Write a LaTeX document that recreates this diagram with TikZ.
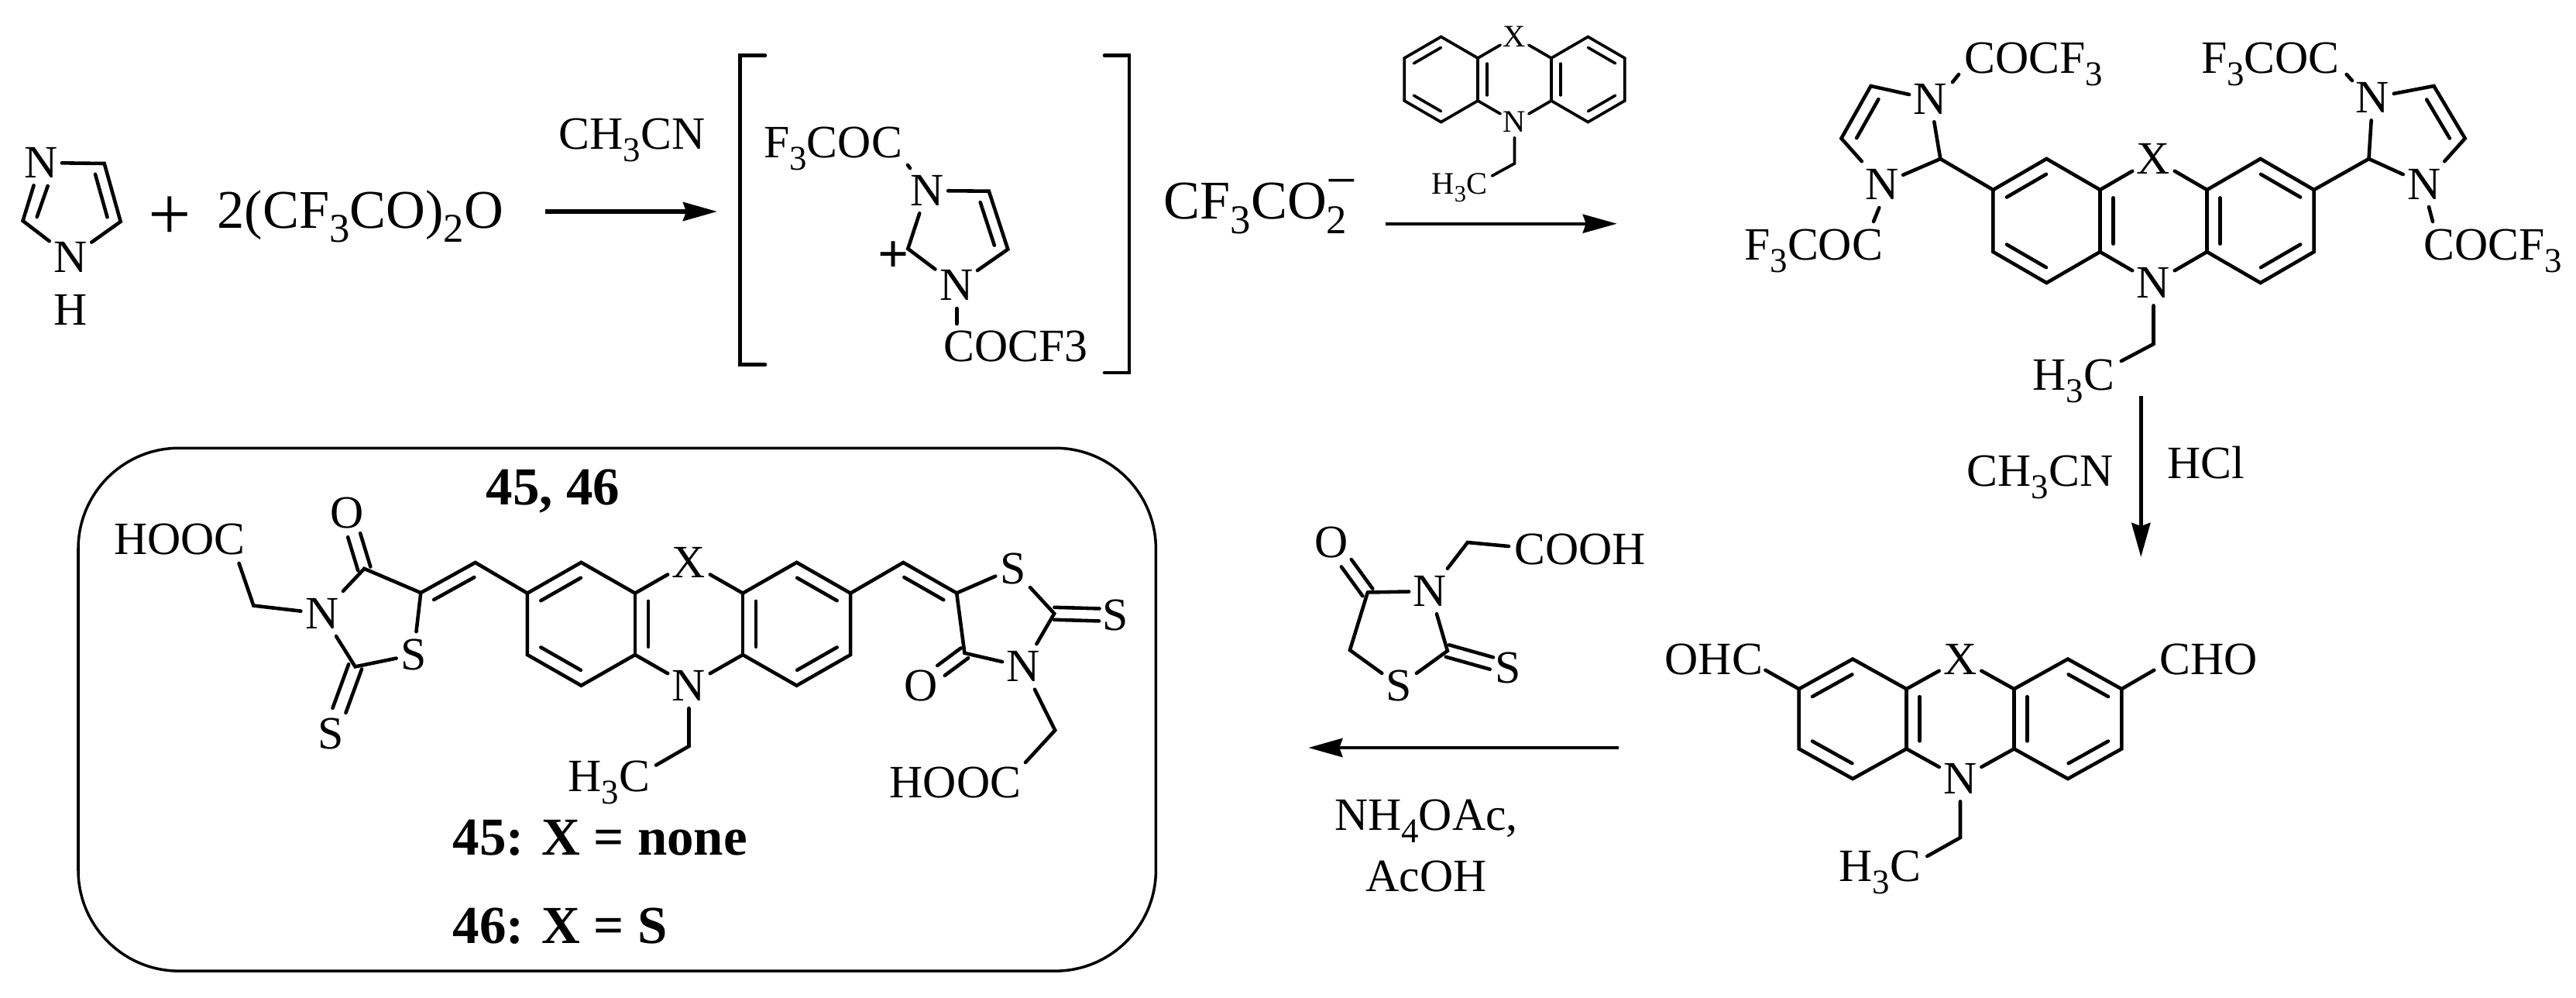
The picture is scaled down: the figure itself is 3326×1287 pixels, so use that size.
\documentclass[tikz,border=0pt]{standalone}
\usepackage{fontspec}
\setmainfont{Liberation Serif}
\usetikzlibrary{arrows.meta,calc}
\newcommand{\idx}[1]{\raisebox{-.27em}{\scalebox{.75}{#1}}}
\tikzset{
    bond/.style={line width=1.3pt,line cap=round},
    atom/.style={inner xsep=.05cm,inner ysep=.09cm,font=\fontsize{17}{20}\selectfont},
    atomsm/.style={inner xsep=.03cm,inner ysep=.06cm,font=\fontsize{11.5}{14}\selectfont},
    lab/.style={inner sep=0,anchor=base west,font=\fontsize{17}{20}\selectfont},
    labsm/.style={lab,font=\fontsize{11.5}{14}\selectfont},
    labbig/.style={lab,font=\fontsize{20}{24}\selectfont},
    labbold/.style={lab,font=\fontsize{19.6}{24}\selectfont\bfseries},
    arrow/.style={line width=#1,-{Stealth[length=.44cm,width=.24cm,inset=.04cm]}},
    arrow/.default=1.4pt
}
% inner line of a double bond, on the left of #1 -> #2
\newcommand{\inbond}[3]{\draw[bond] ($(#1)!.13!(#2)!#3!90:(#2)$) -- ($(#2)!.13!(#1)!#3!-90:(#1)$);}
% two parallel lines, the end at #2 held back from its atom
\newcommand{\dblbond}[4]{
    \draw[bond,shorten >=#4] ($(#1)!#3!90:(#2)$) -- ($(#2)!#3!-90:(#1)$);
    \draw[bond,shorten >=#4] ($(#1)!#3!-90:(#2)$) -- ($(#2)!#3!90:(#1)$);
}
% tricyclic core: name, centre x, centre y, x unit, y unit, atom style, inner offset
\newcommand{\ringcore}[7]{
    \begin{scope}[shift={(#2,#3)},x=#4cm,y=#5cm]
        \node[#6] (#1x) at (0,-2) {X};
        \node[#6] (#1n) at (0,2) {N};
        \coordinate (#1la) at (-1,-1);
        \coordinate (#1lb) at (-2,-2);
        \coordinate (#1lc) at (-3,-1);
        \coordinate (#1ld) at (-3,1);
        \coordinate (#1le) at (-2,2);
        \coordinate (#1lf) at (-1,1);
        \coordinate (#1ra) at (1,-1);
        \coordinate (#1rb) at (2,-2);
        \coordinate (#1rc) at (3,-1);
        \coordinate (#1rd) at (3,1);
        \coordinate (#1re) at (2,2);
        \coordinate (#1rf) at (1,1);
    \end{scope}
    \draw[bond] (#1x) -- (#1la) -- (#1lb) -- (#1lc) -- (#1ld) -- (#1le) -- (#1lf) -- (#1n) -- (#1rf) -- (#1re) -- (#1rd) -- (#1rc) -- (#1rb) -- (#1ra) -- (#1x);
    \draw[bond] (#1la) -- (#1lf);
    \draw[bond] (#1ra) -- (#1rf);
    \inbond{#1lb}{#1lc}{#7}
    \inbond{#1ld}{#1le}{#7}
    \inbond{#1la}{#1lf}{#7}
    \inbond{#1ra}{#1rf}{#7}
    \inbond{#1rc}{#1rb}{#7}
    \inbond{#1re}{#1rd}{#7}
}
\begin{document}
\begin{tikzpicture}[x=.01cm,y=-.01cm]
    \useasboundingbox (0,0) rectangle (3326,1287);
    % imidazole
    \node[atom] (imn1) at (52.6,210) {N};
    \node[atom] (imn3) at (91,332) {N};
    \node[atom] (imh) at (91,400) {H};
    \coordinate (imc4) at (134.7,211);
    \coordinate (imc5) at (155.7,286);
    \coordinate (imc2) at (29.5,285);
    \coordinate (imi1) at (61.7,240);
    \coordinate (imi2) at (47.7,280);
    \draw[bond] (imn1) -- (imc4) -- (imc5) -- (imn3) -- (imc2) -- (imn1);
    \draw[bond] (imi1) -- (imi2);
    \inbond{imc5}{imc4}{.15cm}
    \node[font=\fontsize{28}{30}\selectfont] (plus) at (219,282) {+};
    \node[labbig] (anhyd) at (280,294) {2(CF\idx{3}CO)\idx{2}O};
    \node[lab] (solva) at (721,192.7) {CH\idx{3}CN};
    \coordinate (a1s) at (703.6,273);
    \coordinate (a1e) at (926,273);
    \draw[arrow=1.5pt] (a1s) -- (a1e);
    % bracketed salt
    \coordinate (bl1) at (988,71.7);
    \coordinate (bl2) at (955.5,71.7);
    \coordinate (bl3) at (955.5,470.7);
    \coordinate (bl4) at (988,470.7);
    \coordinate (br1) at (1426,71.7);
    \coordinate (br2) at (1457.8,71.7);
    \coordinate (br3) at (1457.8,481);
    \coordinate (br4) at (1426,481);
    \draw[bond] (bl1) -- (bl2) -- (bl3) -- (bl4);
    \draw[bond] (br1) -- (br2) -- (br3) -- (br4);
    \node[atom] (in1) at (1196.8,246) {N};
    \node[atom] (in3) at (1234.7,368) {N};
    \coordinate (ic4) at (1276.8,246.7);
    \coordinate (ic5) at (1301.3,321.7);
    \coordinate (ic2) at (1172.3,321);
    \draw[bond] (in1) -- (ic4) -- (ic5) -- (in3) -- (ic2) -- (in1);
    \inbond{ic5}{ic4}{.15cm}
    \node[lab] (iacyl) at (985.6,203) {F\idx{3}COC};
    \node[lab] (ibcyl) at (1217.9,466.7) {COCF3};
    \coordinate (it1) at (1172,213);
    \coordinate (it2) at (1175,217);
    \coordinate (it3) at (1235.4,398);
    \coordinate (it4) at (1235.4,418);
    \draw[bond] (it1) -- (it2);
    \draw[bond] (it3) -- (it4);
    \node[font=\fontsize{20}{24}\selectfont\bfseries] (icharge) at (1154,332) {+};
    \node[labbig] (anion) at (1502,282.7) {CF\idx{3}CO\rlap{\raisebox{.37em}{−}}\idx{2}};
    % reagent above the second arrow
    \begin{scope}[bond/.append style={line width=1.05pt}]
        \ringcore{a}{1955.5}{102.5}{.474}{-.275}{atomsm}{.12cm}
        \coordinate (aet) at (1955.5,211);
        \coordinate (ace) at (1926.4,227);
        \node[labsm] (ach) at (1848,250) {H\idx{3}C};
        \draw[bond] (an) -- (aet) -- (ace);
    \end{scope}
    \coordinate (a2s) at (1788.9,288.7);
    \coordinate (a2e) at (2087.7,288.7);
    \draw[arrow=1.15pt] (a2s) -- (a2e);
    % tetra-substituted product
    \ringcore{b}{2780.5}{285}{.69}{-.40}{atom}{.17cm}
    \coordinate (bet) at (2780.5,444);
    \coordinate (bce) at (2738.8,466);
    \node[lab] (bch) at (2624,503.6) {H\idx{3}C};
    \draw[bond] (bn) -- (bet) -- (bce);
    \node[atom] (tln) at (2492.4,128) {N};
    \node[atom] (tlm) at (2429.9,237.5) {N};
    \coordinate (tlc2) at (2505.3,205);
    \coordinate (tlc4) at (2415.5,111);
    \coordinate (tlc5) at (2377.4,178.6);
    \draw[bond] (blc) -- (tlc2) -- (tln) -- (tlc4) -- (tlc5) -- (tlm) -- (tlc2);
    \inbond{tlc4}{tlc5}{.17cm}
    \node[atom] (trn) at (3063.5,126) {N};
    \node[atom] (trm) at (3130,237.5) {N};
    \coordinate (trc2) at (3058.5,205);
    \coordinate (trc4) at (3142.5,111);
    \coordinate (trc5) at (3182.7,178.6);
    \draw[bond] (brc) -- (trc2) -- (trn) -- (trc4) -- (trc5) -- (trm) -- (trc2);
    \inbond{trc5}{trc4}{.17cm}
    \node[lab] (tla) at (2536,94.6) {COCF\idx{3}};
    \node[lab] (tlb) at (2251.7,335) {F\idx{3}COC};
    \node[lab] (tra) at (2841.5,94.6) {F\idx{3}COC};
    \node[lab] (trb) at (3129,335) {COCF\idx{3}};
    \coordinate (tl1) at (2529,96);
    \coordinate (tl2) at (2521,106);
    \coordinate (tl3) at (2426.3,268);
    \coordinate (tl4) at (2419,286);
    \coordinate (tr1) at (3029.7,96);
    \coordinate (tr2) at (3037,104);
    \coordinate (tr3) at (3136,267);
    \coordinate (tr4) at (3141,286);
    \draw[bond] (tl1) -- (tl2);
    \draw[bond] (tl3) -- (tl4);
    \draw[bond] (tr1) -- (tr2);
    \draw[bond] (tr3) -- (tr4);
    % hydrolysis
    \coordinate (a3s) at (2764.3,511);
    \coordinate (a3e) at (2764.3,719);
    \draw[arrow] (a3s) -- (a3e);
    \node[lab] (solvb) at (2539,627.3) {CH\idx{3}CN};
    \node[lab] (hcl) at (2797.7,617.3) {HCl};
    % dialdehyde
    \ringcore{c}{2531}{927.8}{.694}{-.386}{atom}{.17cm}
    \coordinate (cet) at (2531,1081);
    \coordinate (cce) at (2488.3,1105);
    \node[lab] (cch) at (2374,1137.6) {H\idx{3}C};
    \draw[bond] (cn) -- (cet) -- (cce);
    \node[lab] (cohl) at (2149,870) {OHC};
    \node[lab] (cohr) at (2788,870) {CHO};
    \coordinate (cq1) at (2279.4,864.8);
    \coordinate (cq2) at (2781.3,864.8);
    \draw[bond] (cq1) -- (clc);
    \draw[bond] (cq2) -- (crc);
    % rhodanine acid
    \node[atom] (sao) at (1718.9,700) {O};
    \node[atom] (san) at (1846.4,763) {N};
    \node[atom] (sas) at (1806.6,885) {S};
    \node[atom] (sae) at (1947,862) {S};
    \coordinate (sac4) at (1765.8,764.5);
    \coordinate (sac5) at (1742.9,839);
    \coordinate (sac2) at (1868.9,840);
    \coordinate (sam) at (1894.9,700);
    \coordinate (saq) at (1948,705);
    \node[lab] (saacid) at (1954.6,728) {COOH};
    \draw[bond] (sac4) -- (san) -- (sac2) -- (sas) -- (sac5) -- (sac4);
    \draw[bond] (san) -- (sam) -- (saq);
    \dblbond{sac4}{sao}{.08cm}{.33cm}
    \dblbond{sac2}{sae}{.08cm}{.22cm}
    \coordinate (a4s) at (2089.8,965);
    \coordinate (a4e) at (1689.3,965);
    \draw[arrow] (a4s) -- (a4e);
    \node[lab] (nhoac) at (1722.4,1071.5) {NH\idx{4}OAc,};
    \node[lab] (acoh) at (1763,1150) {AcOH};
    % final product in its frame
    \node[draw,line width=1pt,rounded corners=1.3cm,minimum width=13.906cm,minimum height=6.745cm] (frame) at (796.7,915.7) {};
    \node[labbold] (title) at (627,651.8) {45, 46};
    \node[labbold] (capa) at (584,1103.8) {45: X = none};
    \node[labbold] (capb) at (584,1217.4) {46: X = S};
    \ringcore{d}{889.5}{805.3}{.695}{-.397}{atom}{.17cm}
    \coordinate (det) at (889.5,963);
    \coordinate (dce) at (847,987.5);
    \node[lab] (dch) at (733,1021) {H\idx{3}C};
    \draw[bond] (dn) -- (det) -- (dce);
    % left rhodanine
    \node[atom] (hln) at (415.7,791.8) {N};
    \node[atom] (hls) at (534,845) {S};
    \node[atom] (hlo) at (448.4,662) {O};
    \node[atom] (hle) at (427,947) {S};
    \coordinate (hlc4) at (470.3,733.9);
    \coordinate (hlc5) at (543.3,765);
    \coordinate (hlc2) at (458.6,860.4);
    \coordinate (hlch) at (613.7,726);
    \coordinate (hlm) at (327.4,781.6);
    \coordinate (hlq) at (308.6,727);
    \node[lab] (hlacid) at (146.3,715) {HOOC};
    \draw[bond] (hlq) -- (hlm) -- (hln) -- (hlc4) -- (hlc5) -- (hls) -- (hlc2) -- (hln);
    \draw[bond] (hlc5) -- (hlch) -- (dlc);
    \inbond{hlch}{hlc5}{.16cm}
    \dblbond{hlc4}{hlo}{.084cm}{.3cm}
    \dblbond{hlc2}{hle}{.09cm}{.32cm}
    % right rhodanine
    \node[atom] (hrn) at (1321.4,860.4) {N};
    \node[atom] (hrs) at (1307.7,733.9) {S};
    \node[atom] (hro) at (1189.3,884.5) {O};
    \node[atom] (hre) at (1440.3,794) {S};
    \coordinate (hrc4) at (1245.4,842.8);
    \coordinate (hrc5) at (1235.2,765.4);
    \coordinate (hrc2) at (1361.2,791.8);
    \coordinate (hrch) at (1166.3,726);
    \coordinate (hrm) at (1362.2,942.5);
    \coordinate (hrq) at (1324,984);
    \node[lab] (hracid) at (1148,1029.6) {HOOC};
    \draw[bond] (hrq) -- (hrm) -- (hrn) -- (hrc4) -- (hrc5) -- (hrs) -- (hrc2) -- (hrn);
    \draw[bond] (hrc5) -- (hrch) -- (drc);
    \inbond{hrc5}{hrch}{.16cm}
    \dblbond{hrc4}{hro}{.08cm}{.32cm}
    \dblbond{hrc2}{hre}{.08cm}{.21cm}
\end{tikzpicture}
\end{document}
